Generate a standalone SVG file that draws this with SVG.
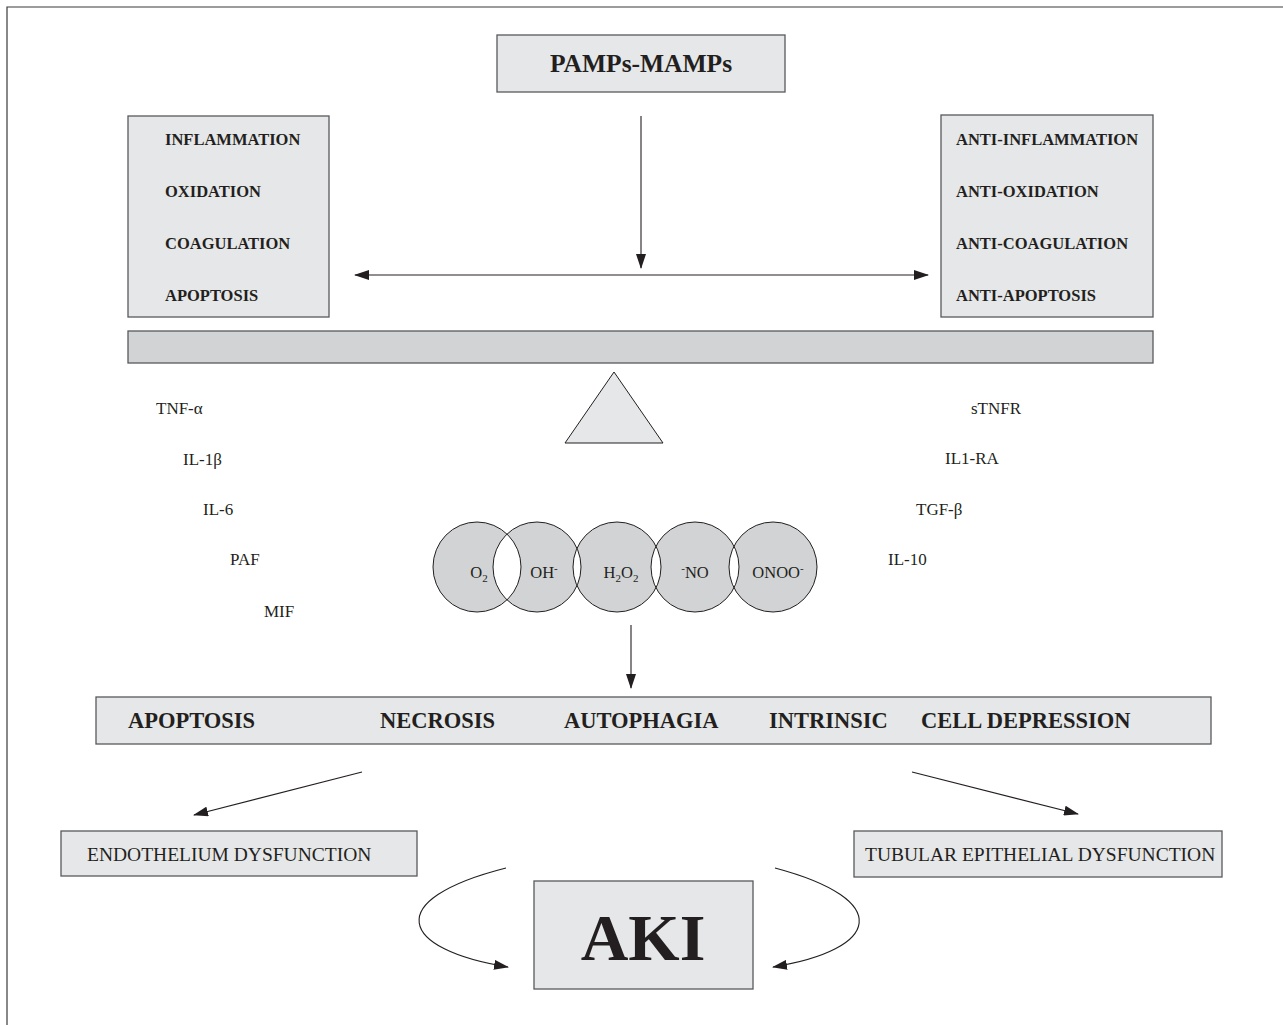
<svg xmlns="http://www.w3.org/2000/svg" width="1283" height="1025" viewBox="0 0 1283 1025">
<style>
.box{fill:#e6e7e8;stroke:#58595b;stroke-width:1.3}
.bar{fill:#d1d3d4;stroke:#58595b;stroke-width:1.3}
.t{font-family:"Liberation Serif","Times New Roman",serif;fill:#231f20}
.b{font-weight:bold}
.lbl{font-size:16.5px;font-weight:bold}
.cy{font-size:17px}
.ros{font-size:16.5px}
.mid{font-size:22.5px;font-weight:bold}
.out{font-size:19.5px}
.ln{fill:none;stroke:#231f20;stroke-width:1.1}
.ring{fill:none;stroke:#231f20;stroke-width:1}
</style>
<defs>
<marker id="ah" viewBox="0 0 15 10" refX="14" refY="5" markerWidth="15" markerHeight="10" markerUnits="userSpaceOnUse" orient="auto-start-reverse">
<path d="M0,0 L15,5 L0,10 Z" fill="#231f20"/>
</marker>
</defs>
<rect width="1283" height="1025" fill="#ffffff"/>
<path d="M7,1025 V7 H1283" fill="none" stroke="#3a3a3a" stroke-width="1.2"/>

<g id="pamps">
<rect class="box" x="497" y="35" width="288" height="57"/>
<text class="t b" x="641" y="72" font-size="25.5" text-anchor="middle">PAMPs-MAMPs</text>
</g>

<g id="pro">
<rect class="box" x="128" y="116" width="201" height="201"/>
<text class="t lbl" x="165" y="145">INFLAMMATION</text>
<text class="t lbl" x="165" y="197">OXIDATION</text>
<text class="t lbl" x="165" y="249">COAGULATION</text>
<text class="t lbl" x="165" y="301">APOPTOSIS</text>
</g>

<g id="anti">
<rect class="box" x="941" y="115" width="212" height="202"/>
<text class="t lbl" x="956" y="145">ANTI-INFLAMMATION</text>
<text class="t lbl" x="956" y="197">ANTI-OXIDATION</text>
<text class="t lbl" x="956" y="249">ANTI-COAGULATION</text>
<text class="t lbl" x="956" y="301">ANTI-APOPTOSIS</text>
</g>

<g id="beam">
<rect class="bar" x="128" y="331" width="1025" height="32"/>
</g>

<g id="fulcrum">
<polygon points="614,372 663,443 565,443" fill="#e6e7e8" stroke="#231f20" stroke-width="1"/>
</g>

<g id="pro-cytokines">
<text class="t cy" x="156" y="414">TNF-α</text>
<text class="t cy" x="183" y="465">IL-1β</text>
<text class="t cy" x="203" y="515">IL-6</text>
<text class="t cy" x="230" y="565">PAF</text>
<text class="t cy" x="264" y="617">MIF</text>
</g>

<g id="anti-cytokines">
<text class="t cy" x="971" y="414">sTNFR</text>
<text class="t cy" x="945" y="464">IL1-RA</text>
<text class="t cy" x="916" y="515">TGF-β</text>
<text class="t cy" x="888" y="565">IL-10</text>
</g>

<g id="ros">
<path fill="#d1d3d4" fill-rule="evenodd" d="M433,567 a44,45 0 1,0 88,0 a44,45 0 1,0 -88,0 Z M493,567 a44,45 0 1,0 88,0 a44,45 0 1,0 -88,0 Z M573,567 a44,45 0 1,0 88,0 a44,45 0 1,0 -88,0 Z M651,567 a44,45 0 1,0 88,0 a44,45 0 1,0 -88,0 Z M729,567 a44,45 0 1,0 88,0 a44,45 0 1,0 -88,0 Z"/>
<g id="ros-o2"><ellipse class="ring" cx="477" cy="567" rx="44" ry="45"/><text class="t ros" x="479" y="578" text-anchor="middle">O<tspan font-size="11" dy="4">2</tspan></text></g>
<g id="ros-oh"><ellipse class="ring" cx="537" cy="567" rx="44" ry="45"/><text class="t ros" x="544" y="578" text-anchor="middle">OH<tspan font-size="11" dy="-6">-</tspan></text></g>
<g id="ros-h2o2"><ellipse class="ring" cx="617" cy="567" rx="44" ry="45"/><text class="t ros" x="621" y="578" text-anchor="middle">H<tspan font-size="11" dy="4">2</tspan><tspan dy="-4">O</tspan><tspan font-size="11" dy="4">2</tspan></text></g>
<g id="ros-no"><ellipse class="ring" cx="695" cy="567" rx="44" ry="45"/><text class="t ros" x="695" y="578" text-anchor="middle"><tspan font-size="11" dy="-6">-</tspan><tspan dy="6">NO</tspan></text></g>
<g id="ros-onoo"><ellipse class="ring" cx="773" cy="567" rx="44" ry="45"/><text class="t ros" x="778" y="578" text-anchor="middle">ONOO<tspan font-size="11" dy="-6">-</tspan></text></g>
</g>

<g id="death">
<rect class="box" x="96" y="697" width="1115" height="47"/>
<text class="t mid" x="128" y="728">APOPTOSIS</text>
<text class="t mid" x="380" y="728">NECROSIS</text>
<text class="t mid" x="564" y="728">AUTOPHAGIA</text>
<text class="t mid" x="769" y="728">INTRINSIC</text>
<text class="t mid" x="921" y="728">CELL DEPRESSION</text>
</g>

<g id="endothelium">
<rect class="box" x="61" y="831" width="356" height="45"/>
<text class="t out" x="87" y="861">ENDOTHELIUM DYSFUNCTION</text>
</g>

<g id="tubular">
<rect class="box" x="854" y="831" width="368" height="46"/>
<text class="t out" x="865" y="861">TUBULAR EPITHELIAL DYSFUNCTION</text>
</g>

<g id="aki">
<rect class="box" x="534" y="881" width="219" height="108"/>
<text class="t b" x="643" y="960" font-size="66" text-anchor="middle">AKI</text>
</g>

<g id="connectors">
<line class="ln" x1="641" y1="116" x2="641" y2="268" marker-end="url(#ah)"/>
<line class="ln" x1="355" y1="275" x2="928" y2="275" marker-start="url(#ah)" marker-end="url(#ah)"/>
<line class="ln" x1="631" y1="625" x2="631" y2="688" marker-end="url(#ah)"/>
<line class="ln" x1="362" y1="772" x2="194" y2="815" marker-end="url(#ah)"/>
<line class="ln" x1="912" y1="772" x2="1078" y2="814" marker-end="url(#ah)"/>
<path class="ln" d="M506,868 C380,900 400,950 508,967" marker-end="url(#ah)"/>
<path class="ln" d="M775,868 C895,900 880,950 773,967" marker-end="url(#ah)"/>
</g>
</svg>
